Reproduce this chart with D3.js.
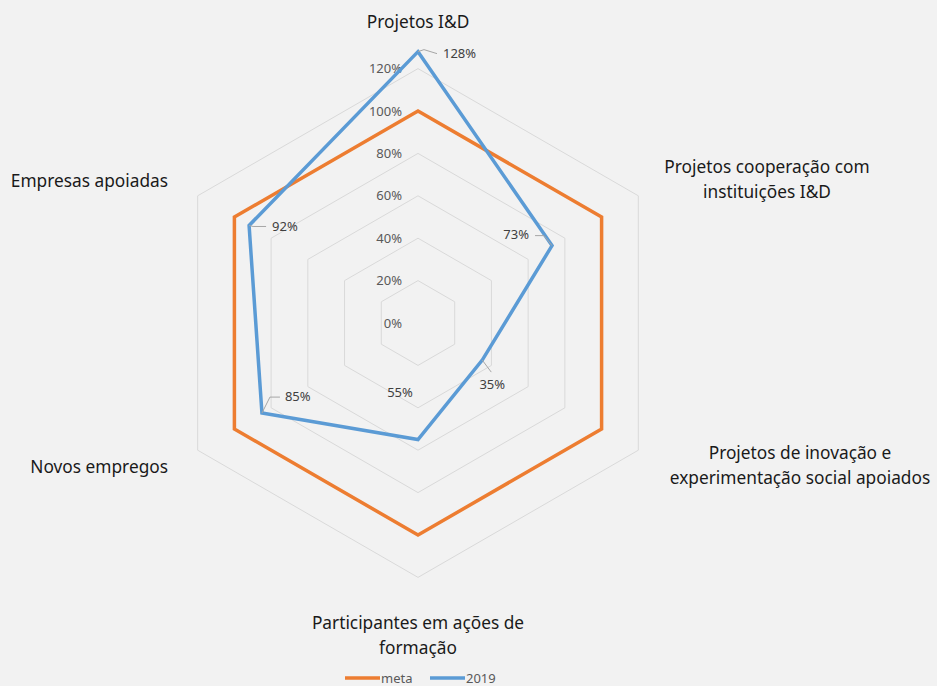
<!DOCTYPE html>
<html>
<head>
<meta charset="utf-8">
<script src="https://cdn.jsdelivr.net/npm/d3@7"></script>
<style>
  body { margin: 0; background: #f2f2f2; }
  svg { display: block; font-family: "Noto Sans", "Open Sans", sans-serif; }
</style>
</head>
<body>
<script>
var width = 937;
var height = 686;

// categories (clockwise from top), each may span two lines
var categories = [
  ["Projetos I&D"],
  ["Projetos cooperação com", "instituições I&D"],
  ["Projetos de inovação e", "experimentação social apoiados"],
  ["Participantes em ações de", "formação"],
  ["Novos empregos"],
  ["Empresas apoiadas"]
];
var meta = [1, 1, 1, 1, 1, 1];
var y2019 = [1.28, 0.73, 0.35, 0.55, 0.85, 0.92];
var ticks = [0, 0.2, 0.4, 0.6, 0.8, 1.0, 1.2];
var seriesNames = ["meta", "2019"];
var colors = ["#ED7D31", "#5B9BD5"];

var cx = 418, cy = 323;
var r = d3.scaleLinear().domain([0, 1.2]).range([0, 254.4]);
var angle = function (i) { return i * 2 * Math.PI / categories.length; };
var pt = function (i, v) {
  return [cx + r(v) * Math.sin(angle(i)), cy - r(v) * Math.cos(angle(i))];
};

var svg = d3.select("body").append("svg")
  .attr("width", width)
  .attr("height", height);

svg.append("rect").attr("width", width).attr("height", height).attr("fill", "#f2f2f2");

// grid hexagons
svg.selectAll(".grid")
  .data(ticks.slice(1))
  .enter().append("polygon")
  .attr("class", "grid")
  .attr("points", function (t) {
    return categories.map(function (c, i) { return pt(i, t).join(","); }).join(" ");
  })
  .attr("fill", "none")
  .attr("stroke", "#d9d9d9")
  .attr("stroke-width", 1);

// tick labels
svg.selectAll(".tick")
  .data(ticks)
  .enter().append("text")
  .attr("x", cx - 16)
  .attr("y", function (t) { return cy - r(t); })
  .attr("dy", "0.35em")
  .attr("text-anchor", "end")
  .attr("font-size", 13)
  .attr("fill", "#595959")
  .text(function (t) { return d3.format(".0%")(t); });

// series
var line = d3.line();
[meta, y2019].forEach(function (vals, s) {
  svg.append("path")
    .attr("d", line(vals.map(function (v, i) { return pt(i, v); })) + "Z")
    .attr("fill", "none")
    .attr("stroke", colors[s])
    .attr("stroke-width", 3.5)
    .attr("stroke-linejoin", "miter");
});

// data labels for 2019 with leader lines
var labelPos = [
  { dx: 25, dy: 2, anchor: "start", lead: [[0, 0], [6, -2], [19, 2]] },
  { dx: -23, dy: -11, anchor: "end", lead: [[0, 0], [-8, -10], [-17, -10]] },
  { dx: 10, dy: 24, anchor: "middle", lead: [[0, 0], [9, 12]] },
  { dx: -18, dy: -47, anchor: "middle", lead: null },
  { dx: 23, dy: -17, anchor: "start", lead: [[0, 0], [8, -16], [18, -16]] },
  { dx: 23, dy: 1, anchor: "start", lead: [[0, 0], [4, 1], [17, 1]] }
];
y2019.forEach(function (v, i) {
  var p = pt(i, v);
  var lp = labelPos[i];
  if (lp.lead) {
    svg.append("path")
      .attr("d", d3.line()(lp.lead.map(function (q) { return [p[0] + q[0], p[1] + q[1]]; })))
      .attr("fill", "none")
      .attr("stroke", "#a6a6a6")
      .attr("stroke-width", 1);
  }
  svg.append("text")
    .attr("x", p[0] + lp.dx)
    .attr("y", p[1] + lp.dy)
    .attr("dy", "0.35em")
    .attr("text-anchor", lp.anchor)
    .attr("font-size", 13)
    .attr("fill", "#404040")
    .text(d3.format(".0%")(v));
});

// category labels
var catPos = [
  { x: 418, y: 22, anchor: "middle" },
  { x: 767, y: 167, anchor: "middle" },
  { x: 800, y: 453, anchor: "middle" },
  { x: 418, y: 623, anchor: "middle" },
  { x: 168, y: 467, anchor: "end" },
  { x: 168, y: 181, anchor: "end" }
];
categories.forEach(function (c, i) {
  var t = svg.append("text")
    .attr("x", catPos[i].x)
    .attr("y", catPos[i].y)
    .attr("text-anchor", catPos[i].anchor)
    .attr("font-size", 17.3)
    .attr("fill", "#1a1a1a");
  c.forEach(function (ln, k) {
    t.append("tspan")
      .attr("x", catPos[i].x)
      .attr("y", catPos[i].y + k * 25)
      .attr("dy", "0.35em")
      .text(ln);
  });
});

// legend
var legend = svg.append("g").attr("transform", "translate(345,678)");
var legX = [0, 85];
seriesNames.forEach(function (n, s) {
  legend.append("line")
    .attr("x1", legX[s]).attr("x2", legX[s] + 35)
    .attr("y1", 0).attr("y2", 0)
    .attr("stroke", colors[s])
    .attr("stroke-width", 3.5);
  legend.append("text")
    .attr("x", legX[s] + 36)
    .attr("y", 0)
    .attr("dy", "0.35em")
    .attr("font-size", 13)
    .attr("fill", "#595959")
    .text(n);
});
</script>
</body>
</html>
